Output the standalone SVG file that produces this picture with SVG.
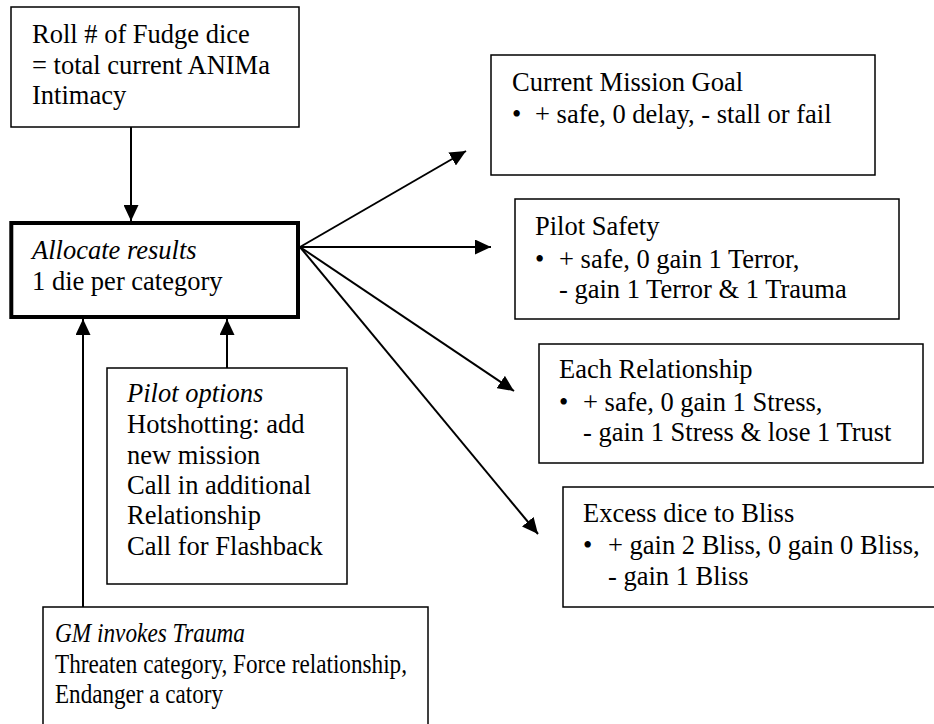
<svg xmlns="http://www.w3.org/2000/svg" width="934" height="724" viewBox="0 0 934 724">
<style>
  text { font-family: "Liberation Serif", "Times New Roman", serif; font-size: 26.5px; fill: #000; }
  .it { font-style: italic; }
  .box { fill: #fff; stroke: #000; stroke-width: 1.5; }
  .thick { fill: #fff; stroke: #000; stroke-width: 4; }
  .conn { stroke: #000; stroke-width: 2; fill: none; marker-end: url(#arrow); }
</style>
<defs>
  <marker id="arrow" viewBox="0 0 16 15" refX="16" refY="7.5" markerWidth="16" markerHeight="15" markerUnits="userSpaceOnUse" orient="auto">
    <path d="M0,0 L16,7.5 L0,15 z" fill="#000"/>
  </marker>
</defs>
<rect width="934" height="724" fill="#fff"/>

<g id="connectors">
  <line class="conn" x1="131" y1="127" x2="131" y2="221"/>
  <line class="conn" x1="300" y1="247" x2="466" y2="151"/>
  <line class="conn" x1="300" y1="247" x2="491" y2="247"/>
  <line class="conn" x1="300" y1="247" x2="514" y2="391"/>
  <line class="conn" x1="300" y1="247" x2="538" y2="534"/>
  <line class="conn" x1="227" y1="368" x2="227" y2="319"/>
  <line class="conn" x1="83" y1="607" x2="83" y2="319"/>
</g>

<g id="roll">
  <rect class="box" x="11" y="7" width="288" height="120"/>
  <text x="32" y="43">Roll # of Fudge dice</text>
  <text x="32" y="74">= total current ANIMa</text>
  <text x="32" y="104">Intimacy</text>
</g>

<g id="allocate">
  <rect class="thick" x="11.3" y="223" width="286.7" height="94"/>
  <text class="it" x="32" y="259">Allocate results</text>
  <text x="32" y="290">1 die per category</text>
</g>

<g id="mission">
  <rect class="box" x="491" y="55" width="384" height="120"/>
  <text x="512" y="91">Current Mission Goal</text>
  <text x="512" y="123">•</text>
  <text x="535" y="123">+ safe, 0 delay, - stall or fail</text>
</g>

<g id="safety">
  <rect class="box" x="515" y="199" width="384" height="120"/>
  <text x="535" y="235">Pilot Safety</text>
  <text x="535" y="268">•</text>
  <text x="559" y="268">+ safe, 0 gain 1 Terror,</text>
  <text x="559" y="298">- gain 1 Terror &amp; 1 Trauma</text>
</g>

<g id="relationship">
  <rect class="box" x="539" y="344" width="384" height="119"/>
  <text x="559" y="378">Each Relationship</text>
  <text x="559" y="411">•</text>
  <text x="583" y="411">+ safe, 0 gain 1 Stress,</text>
  <text x="583" y="441">- gain 1 Stress &amp; lose 1 Trust</text>
</g>

<g id="bliss">
  <rect class="box" x="563" y="487" width="384" height="120"/>
  <text x="583" y="522">Excess dice to Bliss</text>
  <text x="583" y="554">•</text>
  <text x="608" y="554">+ gain 2 Bliss, 0 gain 0 Bliss,</text>
  <text x="608" y="585">- gain 1 Bliss</text>
</g>

<g id="pilot-options">
  <rect class="box" x="107" y="368" width="240" height="216"/>
  <text class="it" x="127" y="402">Pilot options</text>
  <text x="127" y="433">Hotshotting: add</text>
  <text x="127" y="464">new mission</text>
  <text x="127" y="494">Call in additional</text>
  <text x="127" y="524">Relationship</text>
  <text x="127" y="555">Call for Flashback</text>
</g>

<g id="gm-trauma">
  <rect class="box" x="43" y="607" width="385" height="140"/>
  <text class="it" x="55" y="642" textLength="190" lengthAdjust="spacingAndGlyphs">GM invokes Trauma</text>
  <text x="55" y="673" textLength="352" lengthAdjust="spacingAndGlyphs">Threaten category, Force relationship,</text>
  <text x="55" y="703" textLength="168" lengthAdjust="spacingAndGlyphs">Endanger a catory</text>
</g>
</svg>
